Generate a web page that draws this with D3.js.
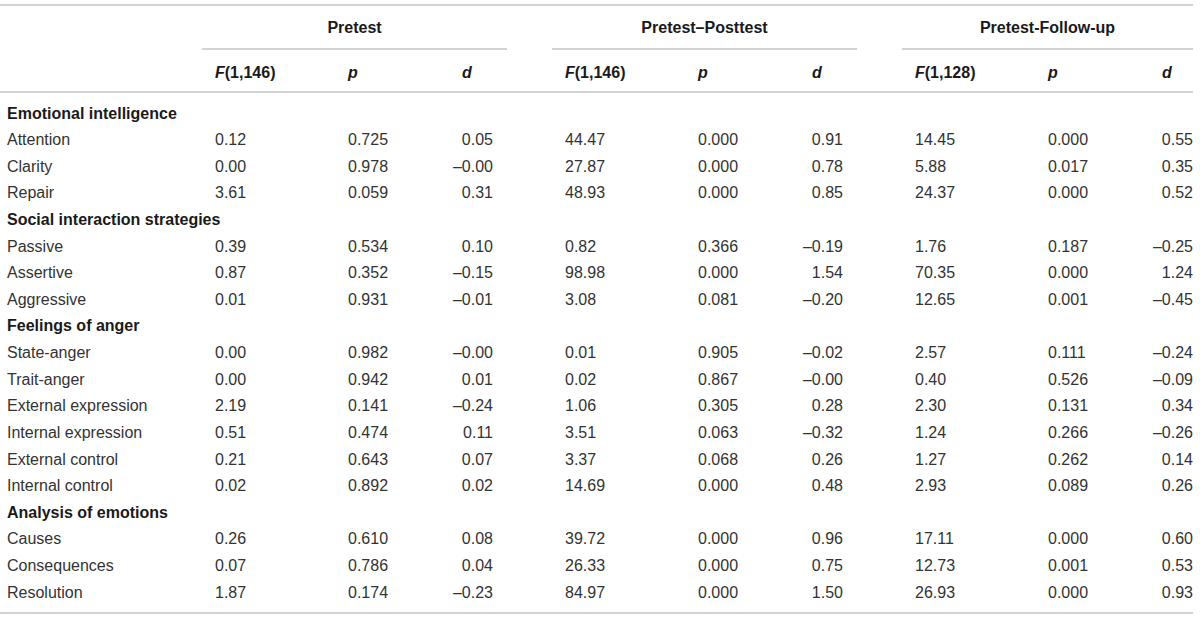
<!DOCTYPE html>
<html>
<head>
<meta charset="utf-8">
<script src="https://cdn.jsdelivr.net/npm/d3@7"></script>
<style>
  body { margin: 0; background: #fff; }
  text { font-family: "Liberation Sans", Arial, sans-serif; font-size: 16px; }
  .bold { font-weight: bold; fill: #1a1a1a; }
  .cell { fill: #333; }
</style>
</head>
<body>
<div id="chart"></div>
<script>
// Table of F, p and d values per measure, for three comparisons

const groups = ["Pretest", "Pretest\u2013Posttest", "Pretest-Follow-up"];
const fDf = ["(1,146)", "(1,146)", "(1,128)"];

const sections = ["Emotional intelligence", "Social interaction strategies", "Feelings of anger", "Analysis of emotions"];
const sectionSizes = [3, 3, 6, 3];
const measures = ["Attention", "Clarity", "Repair",
    "Passive", "Assertive", "Aggressive",
    "State-anger", "Trait-anger", "External expression", "Internal expression", "External control", "Internal control",
    "Causes", "Consequences", "Resolution"];

// Pretest
const fPre = [0.12, 0.00, 3.61, 0.39, 0.87, 0.01, 0.00, 0.00, 2.19, 0.51, 0.21, 0.02, 0.26, 0.07, 1.87];
const pPre = [0.725, 0.978, 0.059, 0.534, 0.352, 0.931, 0.982, 0.942, 0.141, 0.474, 0.643, 0.892, 0.610, 0.786, 0.174];
const dPre = [0.05, -0, 0.31, 0.10, -0.15, -0.01, -0, 0.01, -0.24, 0.11, 0.07, 0.02, 0.08, 0.04, -0.23];
// Pretest-Posttest
const fPost = [44.47, 27.87, 48.93, 0.82, 98.98, 3.08, 0.01, 0.02, 1.06, 3.51, 3.37, 14.69, 39.72, 26.33, 84.97];
const pPost = [0.000, 0.000, 0.000, 0.366, 0.000, 0.081, 0.905, 0.867, 0.305, 0.063, 0.068, 0.000, 0.000, 0.000, 0.000];
const dPost = [0.91, 0.78, 0.85, -0.19, 1.54, -0.20, -0.02, -0, 0.28, -0.32, 0.26, 0.48, 0.96, 0.75, 1.50];
// Pretest-Follow-up
const fFol = [14.45, 5.88, 24.37, 1.76, 70.35, 12.65, 2.57, 0.40, 2.30, 1.24, 1.27, 2.93, 17.11, 12.73, 26.93];
const pFol = [0.000, 0.017, 0.000, 0.187, 0.000, 0.001, 0.111, 0.526, 0.131, 0.266, 0.262, 0.089, 0.000, 0.001, 0.000];
const dFol = [0.55, 0.35, 0.52, -0.25, 1.24, -0.45, -0.24, -0.09, 0.34, -0.26, 0.14, 0.26, 0.60, 0.53, 0.93];

const width = 1200, height = 619;
const tableRight = 1193;

const svg = d3.select("#chart")
    .append("svg")
    .attr("width", width)
    .attr("height", height)
    .attr("viewBox", [0, 0, width, height]);

const f2 = v => (v < 0 || Object.is(v, -0) ? "\u2013" : "") + d3.format(".2f")(Math.abs(v));
const f3 = d3.format(".3f");

// build the row list: section titles followed by their measures
let rows = [], k = 0;
sections.forEach((s, i) => {
    rows.push({ type: "section", label: s });
    for (let j = 0; j < sectionSizes[i]; j++, k++) {
        rows.push({ type: "row", label: measures[k], vals: [
            [fPre[k], pPre[k], dPre[k]],
            [fPost[k], pPost[k], dPost[k]],
            [fFol[k], pFol[k], dFol[k]]] });
    }
});

const y = d3.scalePoint()
    .domain(d3.range(rows.length))
    .range([113, 592]);

const gx = d3.scalePoint()   // left edge of each comparison group
    .domain(groups)
    .range([202, 902]);

const groupEnd = g => Math.min(gx(g) + 305, tableRight);

// horizontal rules
const rule = (x1, x2, yy) => svg.append("line")
    .attr("x1", x1).attr("x2", x2).attr("y1", yy).attr("y2", yy)
    .attr("stroke", "#c4c4c4").attr("stroke-width", 1.6);

rule(0, tableRight, 5);
rule(0, tableRight, 92);
rule(0, tableRight, 613);
groups.forEach(g => rule(gx(g), groupEnd(g), 49));

// group titles
svg.selectAll(".gtitle")
    .data(groups)
    .join("text")
    .attr("class", "bold")
    .attr("x", g => (gx(g) + groupEnd(g)) / 2)
    .attr("y", 27)
    .attr("dy", "0.35em")
    .attr("text-anchor", "middle")
    .text(g => g);

// column headers
groups.forEach((g, i) => {
    const t = svg.append("text").attr("class", "bold")
        .attr("x", gx(g) + 13).attr("y", 72).attr("dy", "0.35em");
    t.append("tspan").attr("font-style", "italic").text("F");
    t.append("tspan").text(fDf[i]);
    svg.append("text").attr("class", "bold").attr("font-style", "italic")
        .attr("x", gx(g) + 146).attr("y", 72).attr("dy", "0.35em").text("p");
    svg.append("text").attr("class", "bold").attr("font-style", "italic")
        .attr("x", gx(g) + 260).attr("y", 72).attr("dy", "0.35em").text("d");
});

// row labels
svg.selectAll(".label")
    .data(rows)
    .join("text")
    .attr("class", d => d.type === "section" ? "bold" : "cell")
    .attr("x", 7)
    .attr("y", (d, i) => y(i))
    .attr("dy", "0.35em")
    .text(d => d.label);

// values
rows.forEach((r, i) => {
    if (r.type !== "row") return;
    groups.forEach((g, gi) => {
        const [F, p, d] = r.vals[gi];
        svg.append("text").attr("class", "cell")
            .attr("x", gx(g) + 13).attr("y", y(i)).attr("dy", "0.35em").text(f2(F));
        svg.append("text").attr("class", "cell")
            .attr("x", gx(g) + 146).attr("y", y(i)).attr("dy", "0.35em").text(f3(p));
        svg.append("text").attr("class", "cell")
            .attr("x", gx(g) + 291).attr("y", y(i)).attr("dy", "0.35em")
            .attr("text-anchor", "end").text(f2(d));
    });
});
</script>
</body>
</html>
